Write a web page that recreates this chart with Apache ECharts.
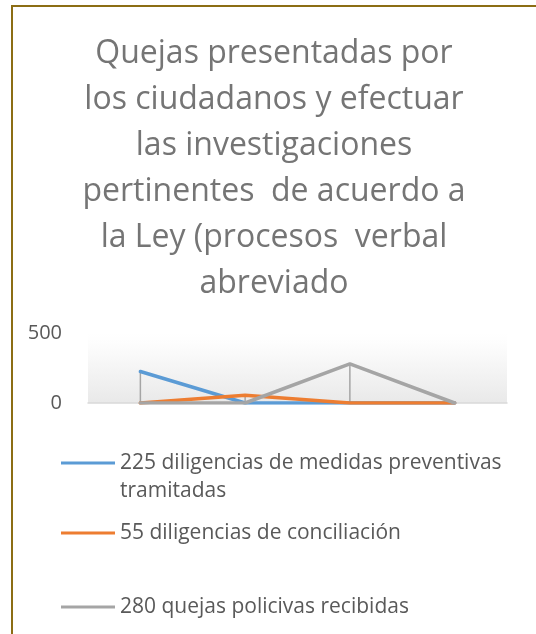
<!DOCTYPE html>
<html>
<head>
<meta charset="utf-8">
<script src="https://cdn.jsdelivr.net/npm/echarts@6/dist/echarts.min.js"></script>
<style>
	html, body { margin: 0; padding: 0; background: #fff; }
	#chart { width: 536px; height: 634px; }
</style>
</head>
<body>
<div id="chart"></div>
<script>
	var categories = ['1', '2', '3', '4'];
	var seriesNames = [
		'225 diligencias de medidas preventivas\ntramitadas',
		'55 diligencias de conciliación',
		'280 quejas policivas recibidas'
	];
	var preventivas = [225, 0, 0, 0];
	var conciliacion = [0, 55, 0, 0];
	var quejas = [0, 0, 280, 0];
	var yTicks = [0, 500];
	var colors = ['#5B9BD5', '#ED7D31', '#A5A5A5'];
	var titleText = 'Quejas presentadas por\nlos ciudadanos y efectuar\nlas investigaciones\npertinentes  de acuerdo a\nla Ley (procesos  verbal\nabreviado';

	var allSeries = [preventivas, conciliacion, quejas];
	//líneas de caída: del máximo de cada categoría hasta el eje
	var dropData = categories.map(function(c, i) {
		var max = 0;
		for(var s = 0; s < allSeries.length; s++) {
			max = Math.max(max, allSeries[s][i]);
		}
		return [i, 0, max];
	});

	var font = 'Open Sans';
	var chart = echarts.init(document.getElementById('chart'));

	var legendAt = function(name, top, formatter) {
		var lg = {
			data: [name],
			orient: 'vertical',
			left: 61,
			top: top,
			padding: 0,
			itemWidth: 54,
			itemHeight: 3,
			icon: 'rect',
			selectedMode: false,
			textStyle: {
				color: '#595959',
				fontFamily: font,
				fontSize: 21,
				lineHeight: 28
			}
		};
		if(formatter) lg.formatter = formatter;
		return lg;
	};

	var option = {
		animation: false,
		backgroundColor: '#fff',
		color: colors,
		title: {
			text: titleText,
			left: 274,
			textAlign: 'center',
			top: 31,
			padding: 0,
			textStyle: {
				color: '#757575',
				fontFamily: font,
				fontWeight: 'normal',
				fontSize: 32,
				lineHeight: 46
			}
		},
		graphic: [{
			type: 'rect',
			shape: { x: 12, y: 6, width: 600, height: 700 },
			style: { fill: 'none', stroke: '#8C6D14', lineWidth: 2 },
			silent: true
		}],
		legend: [
			//línea en blanco arriba para que el icono quede a la altura del primer renglón
			legendAt(seriesNames[0], 421, function(name) { return '\n' + name; }),
			legendAt(seriesNames[1], 519),
			legendAt(seriesNames[2], 593)
		],
		grid: {
			left: 88,
			right: 29,
			top: 333,
			height: 70,
			show: true,
			borderWidth: 0,
			backgroundColor: new echarts.graphic.LinearGradient(0, 0, 0, 1, [
				{ offset: 0, color: '#ffffff' },
				{ offset: 0.15, color: '#fdfdfd' },
				{ offset: 1, color: '#e9e9e9' }
			])
		},
		xAxis: {
			type: 'category',
			data: categories,
			boundaryGap: true,
			axisLine: { show: true, lineStyle: { color: '#d9d9d9', width: 1.5 } },
			axisTick: { show: false },
			axisLabel: { show: false },
			splitLine: { show: false }
		},
		yAxis: {
			type: 'value',
			min: yTicks[0],
			max: yTicks[yTicks.length - 1],
			interval: yTicks[1] - yTicks[0],
			axisLine: { show: false },
			axisTick: { show: false },
			splitLine: { show: false },
			axisLabel: {
				margin: 26,
				color: '#595959',
				fontFamily: font,
				fontSize: 20
			}
		},
		series: [{
			type: 'custom',
			silent: true,
			z: 1,
			data: dropData,
			renderItem: function(params, api) {
				var p0 = api.coord([api.value(0), api.value(1)]);
				var p1 = api.coord([api.value(0), api.value(2)]);
				return {
					type: 'line',
					shape: { x1: p0[0], y1: p0[1], x2: p1[0], y2: p1[1] },
					style: { stroke: '#A5A5A5', lineWidth: 1.5 }
				};
			}
		}].concat(allSeries.map(function(data, i) {
			return {
				name: seriesNames[i],
				type: 'line',
				data: data,
				z: 2 + i,
				symbol: 'none',
				lineStyle: { color: colors[i], width: 3.5, cap: 'round' },
				itemStyle: { color: colors[i] }
			};
		}))
	};
	chart.setOption(option);
</script>
</body>
</html>
